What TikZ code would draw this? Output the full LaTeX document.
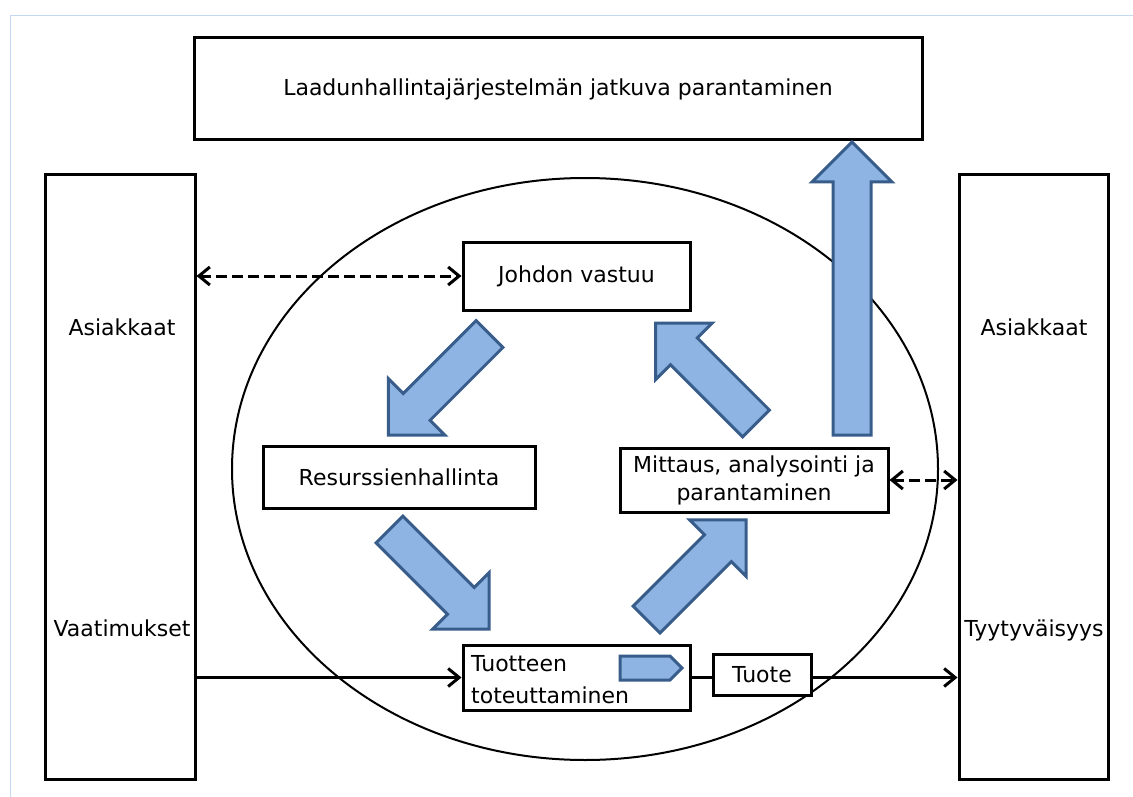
\documentclass[tikz,border=0pt]{standalone}
\usepackage{fontspec}
\setmainfont{DejaVu Sans}
\usetikzlibrary{arrows.meta}
\definecolor{framecol}{RGB}{198,216,240}
\definecolor{arrfill}{RGB}{141,180,226}
\definecolor{arrline}{RGB}{56,93,138}
\tikzset{
  txt/.style={font=\fontsize{22}{28}\selectfont},
  box/.style={txt,draw,line width=3pt,fill=white,inner sep=0pt},
  barb/.tip={Straight Barb[length=11pt,width=18pt]},
  conn/.style={line width=3pt,-barb},
  dconn/.style={line width=3pt,dash pattern=on 11pt off 5pt,barb-barb},
  blockarrow/.pic={
    \draw[arrline,fill=arrfill,line width=3pt,line join=miter]
      (0,-19) -- ({#1-40},-19) -- ({#1-40},-40) -- (#1,0)
      -- ({#1-40},40) -- ({#1-40},19) -- (0,19) -- cycle;
  }
}
\begin{document}
\begin{tikzpicture}[x=1pt,y=-1pt]
\useasboundingbox (0,0) rectangle (1133,797);

% page frame
\draw[framecol,line width=1.2pt] (10.5,797) -- (10.5,15.5) -- (1133,15.5);

% process ellipse
\draw[line width=2pt] (585,469) ellipse [x radius=353, y radius=291];

% boxes
\node[box,minimum width=728pt,minimum height=102pt] (Q) at (558,89)
  {Laadunhallintajärjestelmän jatkuva parantaminen};
\node[box,minimum width=150pt,minimum height=604pt] (L) at (120,477) {};
\node[box,minimum width=149pt,minimum height=604pt] (R) at (1033.5,477) {};
\node[txt] (la) at (122,327) {Asiakkaat};
\node[txt] (lv) at (122,628) {Vaatimukset};
\node[txt] (ra) at (1034,327) {Asiakkaat};
\node[txt] (rt) at (1034,630) {Tyytyväisyys};

\node[box,minimum width=227pt,minimum height=68pt] (J) at (576.5,276) {Johdon vastuu};
\node[box,minimum width=272pt,minimum height=62pt] (S) at (399,477) {Resurssienhallinta};
\node[box,minimum width=268pt,minimum height=64pt,align=center] (M) at (754,480)
  {Mittaus, analysointi ja\\parantaminen};
\node[box,minimum width=227pt,minimum height=65pt] (T) at (576.5,677.5) {};
\node[txt,anchor=north west,inner sep=0pt,align=left,
  font=\fontsize{22}{32}\selectfont] (tt) at (471,655) {Tuotteen\\toteuttaminen};
\node[box,minimum width=98pt,minimum height=41pt] (U) at (762,675) {Tuote};

% connectors
\draw[conn] (L.east |- T.west) -- (T.west);
\draw[line width=3pt] (T.east) -- (T.east -| U.west);
\draw[conn] (U.east |- T.east) -- (R.west |- T.east);
\draw[dconn] (L.east |- J.west) -- (J.west);
\draw[dconn] (M.east) -- (M.east -| R.west);

% small flow arrow inside the realisation box
\draw[arrline,fill=arrfill,line width=3pt]
  (620,656) -- (670,656) -- (682,668) -- (670,680) -- (620,680) -- cycle;

% cycle arrows
\pic[rotate=225] at (489.5,334) {blockarrow=143};
\pic[rotate=-45] at (389.5,529.5) {blockarrow=141};
\pic[rotate=45] at (646.5,619.5) {blockarrow=141};
\pic[rotate=135] at (756,423.5) {blockarrow=142};
\pic[rotate=90] at (852,435) {blockarrow=293};
\end{tikzpicture}
\end{document}
